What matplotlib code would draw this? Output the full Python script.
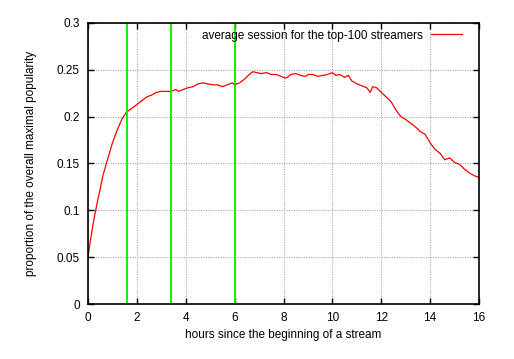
import matplotlib
matplotlib.use("Agg")
import matplotlib.pyplot as plt

plt.rcParams['font.family'] = ['Liberation Sans', 'DejaVu Sans']

# hours since stream start and averaged popularity
hours = [0, 0.1, 0.2, 0.3, 0.4, 0.5, 0.6, 0.75, 0.9, 1.0, 1.2, 1.4, 1.58, 1.8,
         2.0, 2.2, 2.4, 2.6, 2.8, 3.0, 3.2, 3.4, 3.6, 3.7, 3.9, 4.1, 4.3, 4.5,
         4.7, 4.9, 5.1, 5.3, 5.5, 5.7, 5.9, 6.0, 6.2, 6.4, 6.6, 6.75, 6.9, 7.1,
         7.3, 7.5, 7.7, 7.9, 8.1, 8.3, 8.5, 8.7, 8.9, 9.0, 9.2, 9.4, 9.6, 9.8,
         10.0, 10.15, 10.3, 10.5, 10.65, 10.8, 11.0, 11.2, 11.4, 11.55, 11.65,
         11.8, 12.0, 12.2, 12.4, 12.6, 12.8, 13.0, 13.2, 13.4, 13.6, 13.8, 14.0,
         14.2, 14.4, 14.6, 14.8, 15.0, 15.2, 15.4, 15.6, 15.8, 16.0]
popularity = [0.05, 0.068, 0.084, 0.098, 0.111, 0.123, 0.136, 0.15, 0.163, 0.172,
              0.186, 0.198, 0.205, 0.209, 0.213, 0.217, 0.221, 0.223, 0.226,
              0.227, 0.227, 0.227, 0.229, 0.227, 0.229, 0.231, 0.232, 0.235,
              0.236, 0.235, 0.234, 0.234, 0.232, 0.234, 0.236, 0.234, 0.236,
              0.240, 0.245, 0.248, 0.247, 0.246, 0.247, 0.245, 0.245, 0.243,
              0.241, 0.245, 0.246, 0.244, 0.243, 0.245, 0.245, 0.243, 0.244,
              0.245, 0.247, 0.244, 0.245, 0.242, 0.244, 0.238, 0.235, 0.233,
              0.231, 0.226, 0.232, 0.231, 0.226, 0.221, 0.216, 0.207, 0.200,
              0.197, 0.193, 0.189, 0.184, 0.181, 0.172, 0.165, 0.161, 0.154,
              0.156, 0.151, 0.149, 0.144, 0.140, 0.137, 0.135]

# vertical markers
markers = [1.58, 3.41, 6.0]

fig = plt.figure(figsize=(5.14, 3.59), dpi=100)
ax = fig.add_axes([0.1712, 0.1532, 0.7608, 0.7828])

ax.plot(hours, popularity, color='#ff0000', lw=0.9,
        label='average session for the top-100 streamers')
for m in markers:
    ax.axvline(m, color='#00ee00', lw=1.3)

ax.set_xlim(0, 16)
ax.set_ylim(0, 0.3)
ax.set_xticks(range(0, 17, 2))
ax.set_yticks([0, 0.05, 0.1, 0.15, 0.2, 0.25, 0.3])
ax.set_yticklabels(['0', '0.05', '0.1', '0.15', '0.2', '0.25', '0.3'])
ax.grid(True, color='#aaaaaa', ls=(0, (1, 1.2)), lw=0.8)
ax.tick_params(direction='in', top=True, right=True, length=4, width=1,
               labelsize=8.5)
ax.tick_params(axis='x', pad=6)
ax.tick_params(axis='y', pad=6)
for s in ax.spines.values():
    s.set_linewidth(1.2)

ax.set_xlabel('hours since the beginning of a stream', fontsize=8.5, labelpad=3)
ax.set_ylabel('proportion of the overall maximal popularity', fontsize=8.5,
              labelpad=14)

leg = ax.legend(loc='upper right', bbox_to_anchor=(0.962, 0.985),
                frameon=False, markerfirst=False, fontsize=8.5,
                handlelength=2.6, handletextpad=0.7, borderaxespad=0,
                borderpad=0.2)

fig.savefig('out.png', dpi=100)
